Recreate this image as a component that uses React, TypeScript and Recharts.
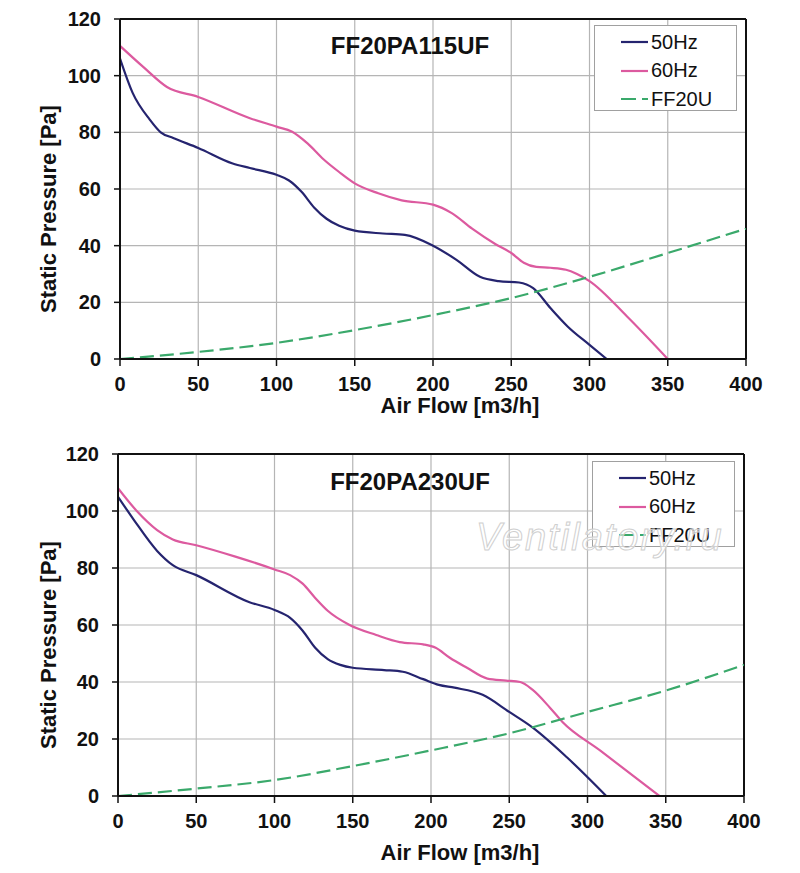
import React from 'react'
import {
  LineChart,
  Line,
  XAxis,
  YAxis,
  CartesianGrid,
  ReferenceLine,
} from 'recharts'

// Top chart: FF20PA115UF
const flow115_50 = [0, 8, 19, 26, 34, 50, 72, 83, 100, 108, 116, 124, 132, 140, 150, 168, 182, 200, 215, 230, 242, 255, 264, 275, 286, 300, 311]
const press115_50 = [106, 94, 84.5, 80, 78, 74.5, 69, 67.4, 65, 63, 59, 53.5, 49.5, 47, 45.3, 44.3, 43.8, 40, 35, 29, 27.5, 27, 25, 18, 11.5, 5, 0]
const flow115_60 = [0, 15, 30, 50, 83, 100, 110, 120, 130, 140, 150, 165, 180, 200, 212, 225, 240, 250, 258, 266, 275, 285, 292, 300, 324, 350]
const press115_60 = [110.5, 103, 96, 92.5, 85, 82, 80.2, 76, 70.5, 66, 62, 58.5, 56, 54.5, 51.5, 46, 40.5, 37.4, 34, 32.5, 32.2, 31.5, 30, 27.5, 15, 0]
const flow115_fan = [0, 50, 100, 150, 200, 250, 300, 350, 400]
const press115_fan = [0, 2.5, 5.7, 10.2, 15.5, 21.5, 29, 37.4, 46]

// Bottom chart: FF20PA230UF
const flow230_50 = [0, 10, 25, 35, 50, 84, 100, 110, 118, 126, 134, 142, 150, 170, 182, 195, 205, 215, 233, 250, 265, 287, 312]
const press230_50 = [105, 97, 86, 81, 77.5, 68, 65.3, 62.5, 58, 52, 48, 46, 45, 44.2, 43.6, 41, 39, 38, 35.5, 29.5, 24, 13.5, 0]
const flow230_60 = [0, 12, 25, 35, 50, 75, 100, 110, 118, 126, 134, 148, 165, 180, 195, 203, 212, 223, 236, 248, 257, 265, 276, 284, 308, 346]
const press230_60 = [108, 100, 93.3, 90, 88, 84, 79.5, 77.5, 74.5, 69.5, 65, 60, 56.5, 54, 53.2, 52, 48.5, 45, 41.2, 40.5, 40, 37.2, 31, 26, 16, 0]
const flow230_fan = [0, 50, 100, 150, 200, 250, 300, 350, 400]
const press230_fan = [0, 2.6, 5.6, 10.5, 16, 22, 29.5, 37, 46]

const xTicks = [0, 50, 100, 150, 200, 250, 300, 350, 400]
const yTicks = [0, 20, 40, 60, 80, 100, 120]
const seriesNames = ['50Hz', '60Hz', 'FF20U']

const colors = ['#25246f', '#dc5a9f', '#3aa96b']
const dashes = [undefined, undefined, '14 6']
const font = '"Liberation Sans", Arial, Helvetica, sans-serif'

const toPoints = (xs: number[], ys: number[]) => xs.map((x, i) => ({ x, y: ys[i] }))

interface PanelProps {
  top: number
  height: number
  title: string
  series: { x: number; y: number }[][]
  plotLeft: number
  plotRight: number
  plotTop: number
  plotBottom: number
  titleY: number
  xTitleY: number
  yTitleY: number
  legendLeft: number
  legendTop: number
  watermark?: boolean
}

function Panel(p: PanelProps) {
  const tickStyle = { fill: '#111', fontSize: 20, fontWeight: 700, fontFamily: font }
  return (
    <>
      <div style={{ position: 'absolute', left: 0, top: p.top }}>
        <LineChart
          width={800}
          height={p.height}
          margin={{
            top: p.plotTop,
            right: 800 - p.plotRight,
            left: p.plotLeft - 60,
            bottom: p.height - p.plotBottom - 30,
          }}
        >
          <CartesianGrid stroke="#b5b5b5" strokeWidth={1.2} />
          <XAxis
            dataKey="x"
            type="number"
            domain={[0, 400]}
            ticks={xTicks}
            height={30}
            tickSize={7}
            tickMargin={11}
            tick={tickStyle}
            axisLine={{ stroke: '#111', strokeWidth: 2 }}
            tickLine={{ stroke: '#111', strokeWidth: 1.5 }}
            allowDataOverflow
          />
          <YAxis
            type="number"
            domain={[0, 120]}
            ticks={yTicks}
            width={60}
            tickSize={6}
            tickMargin={13}
            tick={tickStyle}
            axisLine={{ stroke: '#111', strokeWidth: 2 }}
            tickLine={{ stroke: '#111', strokeWidth: 1.5 }}
            allowDataOverflow
          />
          <ReferenceLine y={120} stroke="#111" strokeWidth={2} />
          <ReferenceLine x={400} stroke="#111" strokeWidth={2} />
          {p.series.map((data, i) => (
            <Line
              key={seriesNames[i]}
              data={data}
              dataKey="y"
              name={seriesNames[i]}
              type="monotone"
              stroke={colors[i]}
              strokeWidth={2.2}
              strokeDasharray={dashes[i]}
              dot={false}
              activeDot={false}
              isAnimationActive={false}
            />
          ))}
        </LineChart>
      </div>

      {/* chart title */}
      <div
        style={{
          position: 'absolute', left: 260, width: 300, top: p.titleY - 12,
          textAlign: 'center', fontFamily: font, fontWeight: 700, fontSize: 24,
          lineHeight: '24px', color: '#111',
        }}
      >
        {p.title}
      </div>

      {/* x axis title */}
      <div
        style={{
          position: 'absolute', left: 310, width: 300, top: p.xTitleY - 11,
          textAlign: 'center', fontFamily: font, fontWeight: 700, fontSize: 22,
          lineHeight: '22px', color: '#111',
        }}
      >
        Air Flow [m3/h]
      </div>

      {/* y axis title */}
      <div
        style={{
          position: 'absolute', left: 49 - 150, width: 300, top: p.yTitleY - 11,
          textAlign: 'center', fontFamily: font, fontWeight: 700, fontSize: 22,
          lineHeight: '22px', color: '#111', transform: 'rotate(-90deg)',
        }}
      >
        Static Pressure [Pa]
      </div>

      {/* legend */}
      <div
        style={{
          position: 'absolute', left: p.legendLeft, top: p.legendTop, width: 143, height: 86,
          boxSizing: 'border-box', border: '1.5px solid #a0a0a0', background: '#fff',
          fontFamily: font, fontSize: 20, color: '#111',
        }}
      >
        {seriesNames.map((name, i) => (
          <div
            key={name}
            style={{
              position: 'absolute', left: 26, top: 4 + i * 28.5, height: 24,
              display: 'flex', alignItems: 'center',
            }}
          >
            <svg width={28} height={6}>
              <line x1={0} y1={3} x2={27} y2={3} stroke={colors[i]} strokeWidth={2.2}
                strokeDasharray={i === 2 ? '15 6' : undefined} />
            </svg>
            <span style={{ marginLeft: 2 }}>{name}</span>
          </div>
        ))}
      </div>

      {p.watermark && (
        <div
          style={{
            position: 'absolute', left: 476, top: p.legendTop + 57, fontFamily: font,
            fontStyle: 'italic', fontSize: 38, letterSpacing: 2, lineHeight: '38px',
            color: 'rgba(255,255,255,0.55)', WebkitTextStroke: '1px #cfcfcf',
          }}
        >
          Ventilatory.ru
        </div>
      )}
    </>
  )
}

export default function App() {
  return (
    <div style={{ position: 'absolute', left: 0, top: 0, width: 800, height: 873, background: '#fff', overflow: 'hidden' }}>
      <Panel
        top={0}
        height={440}
        title="FF20PA115UF"
        series={[
          toPoints(flow115_50, press115_50),
          toPoints(flow115_60, press115_60),
          toPoints(flow115_fan, press115_fan),
        ]}
        plotLeft={120}
        plotRight={746}
        plotTop={19}
        plotBottom={359}
        titleY={46}
        xTitleY={406}
        yTitleY={209}
        legendLeft={594}
        legendTop={25}
      />
      <Panel
        top={435}
        height={438}
        title="FF20PA230UF"
        series={[
          toPoints(flow230_50, press230_50),
          toPoints(flow230_60, press230_60),
          toPoints(flow230_fan, press230_fan),
        ]}
        plotLeft={118}
        plotRight={744}
        plotTop={19}
        plotBottom={361}
        titleY={482}
        xTitleY={853}
        yTitleY={645}
        legendLeft={592}
        legendTop={461}
        watermark
      />
    </div>
  )
}
